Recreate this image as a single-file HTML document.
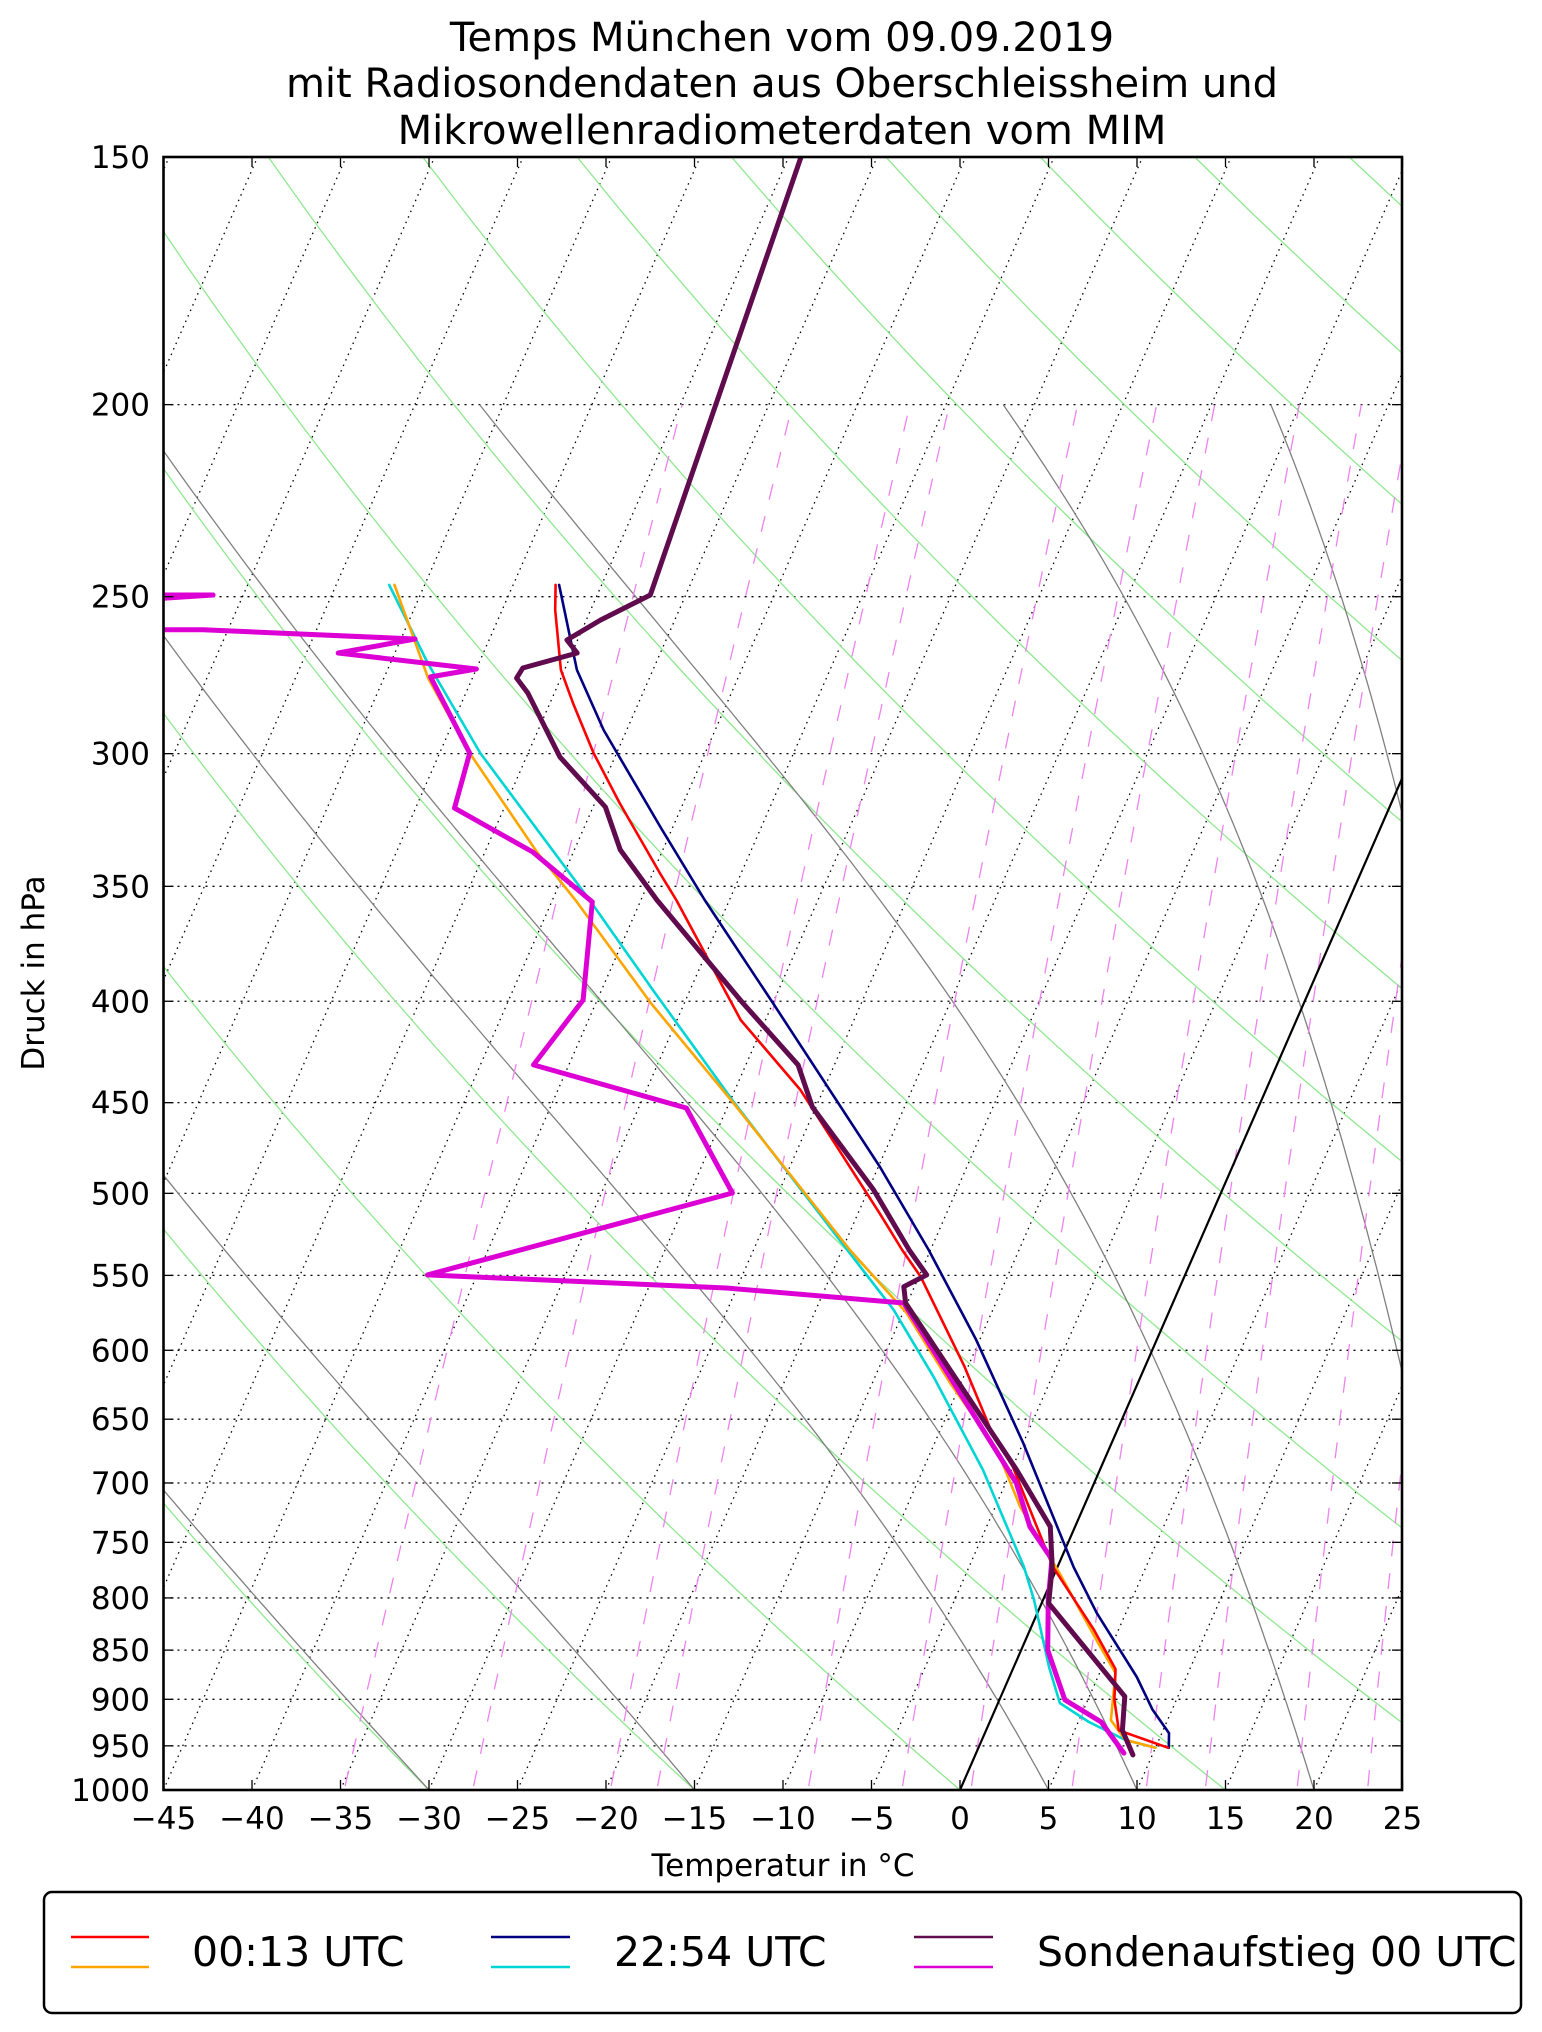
<!DOCTYPE html>
<html><head><meta charset="utf-8">
<style>
html,body{margin:0;padding:0;background:#fff;}
svg{display:block;font-family:"DejaVu Sans","Liberation Sans",sans-serif;}
</style></head>
<body>
<svg id="chart" width="1542" height="2032" viewBox="0 0 1542 2032" xmlns="http://www.w3.org/2000/svg">
<defs><clipPath id="plotclip"><rect x="163.5" y="157" width="1238.5" height="1633"/></clipPath></defs>
<rect x="0" y="0" width="1542" height="2032" fill="#fff"/>
<g font-size="40" text-anchor="middle" fill="#000">
<text x="782" y="51">Temps München vom 09.09.2019</text>
<text x="782" y="97">mit Radiosondendaten aus Oberschleissheim und</text>
<text x="782" y="144">Mikrowellenradiometerdaten vom MIM</text>
</g>
<g id="bg" clip-path="url(#plotclip)"></g>
<g id="series" clip-path="url(#plotclip)"></g>
<g id="axes"></g>
<text x="783" y="1876" font-size="31" text-anchor="middle">Temperatur in °C</text>
<text transform="translate(44,973) rotate(-90)" font-size="31" text-anchor="middle">Druck in hPa</text>
<g>
<rect x="44" y="1892" width="1477" height="121" rx="8" fill="#fff" stroke="#000" stroke-width="2.5"/>
<g>
<line x1="71" y1="1937" x2="149" y2="1937" stroke="#ff0000" stroke-width="2.5"/>
<line x1="71" y1="1967" x2="149" y2="1967" stroke="#ffa500" stroke-width="2.5"/>
<text x="192" y="1966" font-size="41">00:13 UTC</text></g>
<g>
<line x1="491" y1="1937" x2="570" y2="1937" stroke="#000080" stroke-width="2.5"/>
<line x1="491" y1="1967" x2="570" y2="1967" stroke="#00d5d5" stroke-width="2.5"/>
<text x="614" y="1966" font-size="41">22:54 UTC</text></g>
<g>
<line x1="914" y1="1937" x2="993" y2="1937" stroke="#5f0b4d" stroke-width="2.5"/>
<line x1="914" y1="1967" x2="993" y2="1967" stroke="#dd00d5" stroke-width="2.5"/>
<text x="1037" y="1966" font-size="41">Sondenaufstieg 00 UTC</text></g>
</g>
</svg>
<script>
const pressureTicks=[150,200,250,300,350,400,450,500,550,600,650,700,750,800,850,900,950,1000];
const tempTicks=[-45,-40,-35,-30,-25,-20,-15,-10,-5,0,5,10,15,20,25];
const sondeTempP=[150,249.5,256.9,262.9,266.9,271.6,274.8,279.6,301.2,319.2,335.5,355.6,400.8,430.7,452.3,498,534,549.7,557.3,567.9,689.5,736.5,771.6,805,897,933,960];
const sondeTemp=[-49.3,-47.0,-49.2,-50.6,-49.7,-52.4,-52.5,-51.5,-48.1,-44.3,-42.4,-39.1,-31.7,-27.05,-25.2,-19.7,-16.2,-14.6,-15.6,-15.1,-4.7,-1.4,-0.3,0.4,7.0,7.7,8.9];
const sondeDewP=[249.6,249.5,259.4,259.8,262.6,266.9,271.9,274.4,299.8,319.6,336.3,356.4,399.4,430.7,452.8,499.8,549.7,558.1,567.9,700,736.5,765,802,850,900.6,924,958];
const sondeDew=[-100,-71.7,-100,-71.4,-59.2,-63.2,-55.0,-57.4,-53.3,-52.8,-47.3,-42.7,-40.8,-42.0,-32.3,-27.6,-42.8,-25.6,-15.2,-4.4,-2.55,-0.5,0.3,1.5,3.7,6.3,8.35];
const mwr0013TempP=[246.6,253.9,272.2,282.9,299.8,317.7,344.6,355.6,408.8,443.4,511.5,534,550.8,611.5,660.5,686.9,771.6,830,869,900.6,933,952];
const mwr0013Temp=[-52.6,-52.0,-50.2,-48.7,-46.3,-43.6,-39.6,-38.0,-31.4,-26.3,-18.8,-16.6,-14.9,-10.2,-7.0,-5.0,-0.26,3.6,5.8,6.5,7.5,10.7];
const mwr0013DewP=[246.6,274.8,299.8,336.7,355.6,400.8,449.9,534,574.5,623.3,673.7,719.5,781,840,873,922,943.5,952];
const mwr0013Dew=[-61.7,-57.5,-53.3,-47.0,-43.7,-36.9,-29.8,-19.55,-14.8,-10.6,-6.3,-3.6,0.5,4.0,5.9,6.8,8.1,10.0];
const mwr2254TempP=[246.6,272.2,291.9,326.7,355.6,400.8,484.9,534,592.8,668.2,771.6,814,877,911,936,952];
const mwr2254Temp=[-52.4,-49.3,-46.3,-40.7,-36.4,-30.0,-19.9,-15.1,-10.2,-5.0,0.9,3.35,7.2,8.9,10.4,10.75];
const mwr2254DewP=[246.6,270,299.8,355.6,394.8,448.6,534,572.5,618.7,689.5,771.6,802,867,904,924,943.5,952];
const mwr2254Dew=[-62.0,-57.9,-52.7,-42.9,-37.1,-29.9,-19.7,-15.6,-11.7,-6.6,-1.9,-0.5,2.0,3.5,5.6,8.1,10.0];
const dryAdiabatStarts=[-45,-30,-15,0,15,30,45,60,75,90,105,120,135,150,165];
const moistAdiabatStarts=[-30,-15,5,10,20,30,35];
const mixingRatios=[0.2,0.4,0.8,1,2,3,4,6,8,10,14,18];

const L=163.5,R=1402,T0=157,B=1790,PXC=17.70,SK=0.437;
const NS="http://www.w3.org/2000/svg";
function yOf(p){return T0+(B-T0)*Math.log(p/150)/Math.log(1000/150);}
function xOf(t,p){return L+(t+45)*PXC+(B-yOf(p))*SK;}
function mk(tag,attrs,parent){const e=document.createElementNS(NS,tag);for(const k in attrs)e.setAttribute(k,attrs[k]);parent.appendChild(e);return e;}
function pts(ps,ts){return ps.map((p,i)=>xOf(ts[i],p).toFixed(1)+","+yOf(p).toFixed(1)).join(" ");}
const bg=document.getElementById('bg'),series=document.getElementById('series'),axes=document.getElementById('axes');

for(let t=-120;t<=25;t+=5){
  const l=mk('line',{x1:xOf(t,1000),y1:yOf(1000),x2:xOf(t,150),y2:yOf(150),stroke:'#000','stroke-width':1.3,'stroke-dasharray':'1.5,4.5'},bg);
  
  
}
pressureTicks.forEach(p=>{if(p>150&&p<1000){
  const l=mk('line',{x1:L,y1:yOf(p),x2:R,y2:yOf(p),stroke:'#000','stroke-width':1.3,'stroke-dasharray':'2,5'},bg);
  
  
}});
dryAdiabatStarts.forEach(t0=>{
  const th=t0+273.15,ps=[],ts=[];
  for(let p=1000;p>=150;p-=10){ps.push(p);ts.push(th*Math.pow(p/1000,0.2857)-273.15);}
  const l=mk('polyline',{points:pts(ps,ts),fill:'none',stroke:'#8fe88f','stroke-width':1.3},bg);
  
  
});
function es(tc){return 6.112*Math.exp(17.67*tc/(tc+243.5));}
moistAdiabatStarts.forEach(t0=>{
  let T=t0+273.15;const ps=[],ts=[];const Rd=287.04,Cp=1005.7,Lv=2.501e6,eps=0.622;
  function dTdp(p,T){const e=es(T-273.15);const rs=eps*e/(p-e);return (Rd*T+Lv*rs)/(p*(Cp+Lv*Lv*rs*eps/(Rd*T*T)));}
  for(let p=1000;p>=200;p-=5){ps.push(p);ts.push(T-273.15);
    const h=-5;const k1=dTdp(p,T),k2=dTdp(p+h/2,T+h/2*k1),k3=dTdp(p+h/2,T+h/2*k2),k4=dTdp(p+h,T+h*k3);
    T+=h/6*(k1+2*k2+2*k3+k4);}
  const l=mk('polyline',{points:pts(ps,ts),fill:'none',stroke:'#808080','stroke-width':1.3},bg);
  
  
});
mixingRatios.forEach(w=>{
  const ps=[],ts=[];
  for(let p=1000;p>=200;p-=10){const e=w*p/(622+w);const a=Math.log(e/6.112);ps.push(p);ts.push(243.5*a/(17.67-a));}
  const l=mk('polyline',{points:pts(ps,ts),fill:'none',stroke:'#ee82ee','stroke-width':1.3,'stroke-dasharray':'16,17','stroke-dashoffset':'-4'},bg);
  
  
});
const z=mk('line',{x1:xOf(0,1000),y1:yOf(1000),x2:xOf(0,150),y2:yOf(150),stroke:'#000','stroke-width':2.2},bg);



function drawSeries(ps,ts,color,w,name){
  const l=mk('polyline',{points:pts(ps,ts),fill:'none',stroke:color,'stroke-width':w,'stroke-linejoin':'round','stroke-linecap':'round'},series);
  
  
}
drawSeries(mwr2254DewP,mwr2254Dew,'#00d5d5',2.6,'mwr-2254-dewpoint');
drawSeries(mwr0013DewP,mwr0013Dew,'#ffa500',2.6,'mwr-0013-dewpoint');
drawSeries(mwr2254TempP,mwr2254Temp,'#000080',2.6,'mwr-2254-temperature');
drawSeries(mwr0013TempP,mwr0013Temp,'#ff0000',2.6,'mwr-0013-temperature');
drawSeries(sondeDewP,sondeDew,'#dd00d5',5,'sonde-dewpoint');
drawSeries(sondeTempP,sondeTemp,'#5f0b4d',5,'sonde-temperature');

const fr=mk('rect',{x:L,y:T0,width:R-L,height:B-T0,fill:'none',stroke:'#000','stroke-width':2.6},axes);


pressureTicks.forEach(p=>{
  const y=yOf(p);
  mk('line',{x1:L,y1:y,x2:L+10,y2:y,stroke:'#000','stroke-width':1.3},axes);
  mk('line',{x1:R,y1:y,x2:R-10,y2:y,stroke:'#000','stroke-width':1.3},axes);
  const t=mk('text',{x:150,y:y+11,'font-size':31,'text-anchor':'end'},axes);
  t.textContent=String(p);
  
  
});
tempTicks.forEach(tv=>{
  const x=L+(tv+45)*PXC;
  mk('line',{x1:x,y1:B,x2:x,y2:B-10,stroke:'#000','stroke-width':1.3},axes);
  mk('line',{x1:x,y1:T0,x2:x,y2:T0+10,stroke:'#000','stroke-width':1.3},axes);
  const t=mk('text',{x:x,y:1829,'font-size':31,'text-anchor':'middle'},axes);
  t.textContent=(tv<0?'\u2212'+Math.abs(tv):String(tv));
  
  
});
</script>
</body></html>
